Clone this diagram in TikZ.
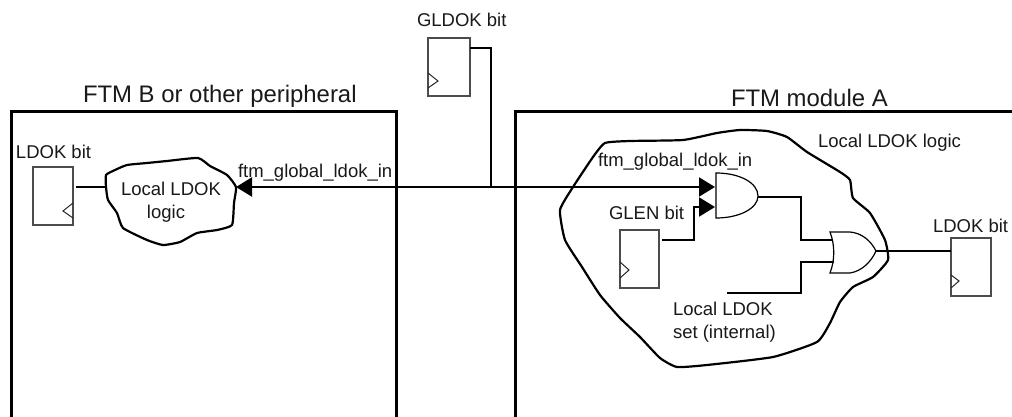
\documentclass[tikz,border=0pt]{standalone}
\usepackage{fontspec}
\setmainfont{Liberation Sans}
\usetikzlibrary{arrows.meta}
\tikzset{
  lbl/.style={anchor=base west,inner sep=0pt,outer sep=0pt,font=\fontsize{18.5}{18.5}\selectfont,text=black!90},
  title/.style={anchor=base west,inner sep=0pt,outer sep=0pt,font=\fontsize{23.9}{23.9}\selectfont,text=black!90},
  ffbox/.style={draw=black!70,line width=1.2pt,fill=white,anchor=north west,inner sep=0pt,outer sep=0pt,minimum width=40pt,minimum height=58pt},
  clk/.style={draw=black!85,line width=1pt},
  frame/.style={draw=black,line width=3pt},
  blob/.style={draw=black,line width=2.2pt,fill=white,line join=round},
  wire/.style={draw=black,line width=2.2pt},
  gate/.style={draw=black,line width=1.2pt,fill=white},
  tri/.style={-{Triangle[length=16pt,width=19pt,fill=black]},shorten >=0pt},
}
\begin{document}
\begin{tikzpicture}[x=1pt,y=-1pt]
\useasboundingbox (0,0) rectangle (1012,417);
% module frames
\draw[frame] (11,417) -- (11,112) -- (396,112) -- (396,417);
\draw[frame] (515,417) -- (515,112) -- (1012,112);
% clouds
\draw[blob] plot[smooth cycle,tension=0.3] coordinates {(106,175)(115,170)(127,165)(147,163)(167,161)(198,158)(210,166)(227,175)(236,187)(234,203)(232,225)(217,230)(197,233)(180,242)(163,245)(147,240)(123,228)(117,213)(108,200)(106,187)};
\draw[blob] plot[smooth cycle,tension=0.3] coordinates {(560,210)(573,187)(593,157)(605,143)(630,141)(683,140)(717,133)(740,130)(767,131)(787,137)(807,152)(840,172)(850,180)(853,198)(870,213)(885,240)(888,260)(873,277)(853,287)(840,302)(830,323)(817,342)(773,357)(707,365)(677,367)(660,358)(640,337)(620,318)(600,295)(582,267)(565,240)};
% flip-flops
\node[ffbox] (ffa) at (33,167) {};
\node[ffbox,minimum width=42pt] (ffg) at (428,38) {};
\node[ffbox,minimum width=39pt] (ffn) at (620,230) {};
\node[ffbox] (ffb) at (951,238) {};
\draw[clk] (73,203) -- (63,211) -- (73,218);
\draw[clk] (428,73) -- (438,81) -- (428,88);
\draw[clk] (620,262) -- (629,270) -- (620,278);
\draw[clk] (951,275) -- (959,281) -- (951,288);
% gates
\draw[gate] (716,173) .. controls (740,173) and (758,183) .. (758,196) .. controls (758,208) and (740,218) .. (716,218) -- cycle;
\draw[gate] (830,232) -- (850,232) .. controls (862,233) and (871,241) .. (876,251) .. controls (871,262) and (862,271) .. (850,273) -- (830,273) .. controls (835,260) and (835,245) .. (830,232) -- cycle;
% ports
\coordinate (j) at (491,187);
\coordinate (cloudin) at (236,187);
\coordinate (cloudout) at (106,187);
\coordinate (ffaq) at (76,187);
\coordinate (ffgq) at (470,48);
\coordinate (corner) at (491,48);
\coordinate (anda) at (715,187);
\coordinate (andb) at (715,207);
\coordinate (andq) at (758,197);
\coordinate (ffnq) at (662,240);
\coordinate (ora) at (832,240);
\coordinate (orb) at (834,262);
\coordinate (orq) at (876,251);
\coordinate (ffbd) at (951,251);
\coordinate (setin) at (727,293);
% wires
\draw[wire] (ffaq) -- (cloudout);
\draw[wire,tri] (j) -- (cloudin);
\draw[wire,tri] (j) -- (anda);
\draw[wire] (ffgq) -- (corner) -- (j);
\draw[wire,tri] (ffnq) -| (694,207) -- (andb);
\draw[wire] (andq) -| (801,240) -- (ora);
\draw[wire] (setin) -| (801,262) -- (orb);
\draw[wire] (orq) -- (ffbd);
% text
\node[title] (t1) at (83,103) {FTM B or other peripheral};
\node[title] (t2) at (731,107) {FTM module A};
\node[lbl] (l1) at (417,27) {GLDOK bit};
\node[lbl] (l2) at (16,158) {LDOK bit};
\node[lbl,anchor=base] (l3) at (171,195) {Local LDOK};
\node[lbl,anchor=base] (l4) at (166,218) {logic};
\node[lbl] (l5) at (238,177) {ftm\_global\_ldok\_in};
\node[lbl] (l6) at (598,167) {ftm\_global\_ldok\_in};
\node[lbl] (l7) at (609,219) {GLEN bit};
\node[lbl] (l8) at (818,147) {Local LDOK logic};
\node[lbl] (l9) at (933,232) {LDOK bit};
\node[lbl] (l10) at (673,315) {Local LDOK};
\node[lbl] (l11) at (673,338) {set (internal)};
\end{tikzpicture}
\end{document}
